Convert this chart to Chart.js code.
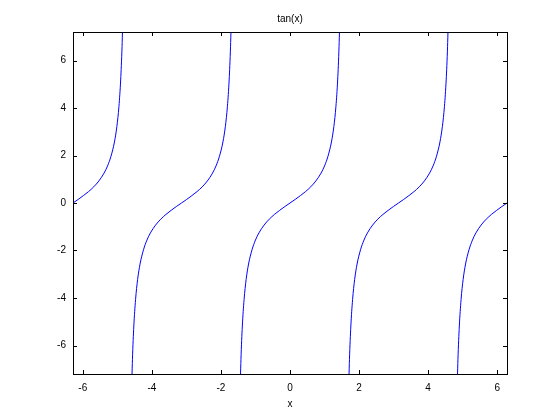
<!DOCTYPE html>
<html>
<head>
<meta charset="utf-8">
<script src="https://cdn.jsdelivr.net/npm/chart.js@4/dist/chart.umd.min.js"></script>
<style>
  html, body { margin: 0; padding: 0; background: #fff; }
  #wrap { width: 560px; height: 420px; }
</style>
</head>
<body>
<div id="wrap"><canvas id="c" width="560" height="420"></canvas></div>
<script>
// Values (tan(x) branches)
const branch1X = [-6.283, -6.133, -5.983, -5.833, -5.683, -5.533, -5.383, -5.283, -5.183, -5.083, -5.013, -4.953, -4.903, -4.863, -4.833];
const branch1Y = [0, 0.15, 0.31, 0.48, 0.68, 0.93, 1.26, 1.56, 1.97, 2.57, 3.22, 4.07, 5.18, 6.58, 8.24];

const branch2X = [-4.592, -4.562, -4.522, -4.472, -4.412, -4.342, -4.242, -4.142, -4.042, -3.892, -3.742, -3.592, -3.442, -3.292, -3.142,
                  -2.992, -2.842, -2.692, -2.542, -2.392, -2.242, -2.142, -2.042, -1.942, -1.872, -1.812, -1.762, -1.722, -1.692];
const branch2Y = [-8.24, -6.58, -5.18, -4.07, -3.22, -2.57, -1.97, -1.56, -1.26, -0.93, -0.68, -0.48, -0.31, -0.15, 0,
                  0.15, 0.31, 0.48, 0.68, 0.93, 1.26, 1.56, 1.97, 2.57, 3.22, 4.07, 5.18, 6.58, 8.24];

const branch3X = [-1.45, -1.42, -1.38, -1.33, -1.27, -1.2, -1.1, -1.0, -0.9, -0.75, -0.6, -0.45, -0.3, -0.15, 0,
                  0.15, 0.3, 0.45, 0.6, 0.75, 0.9, 1.0, 1.1, 1.2, 1.27, 1.33, 1.38, 1.42, 1.45];
const branch3Y = [-8.24, -6.58, -5.18, -4.07, -3.22, -2.57, -1.97, -1.56, -1.26, -0.93, -0.68, -0.48, -0.31, -0.15, 0,
                  0.15, 0.31, 0.48, 0.68, 0.93, 1.26, 1.56, 1.97, 2.57, 3.22, 4.07, 5.18, 6.58, 8.24];

const branch4X = [1.692, 1.722, 1.762, 1.812, 1.872, 1.942, 2.042, 2.142, 2.242, 2.392, 2.542, 2.692, 2.842, 2.992, 3.142,
                  3.292, 3.442, 3.592, 3.742, 3.892, 4.042, 4.142, 4.242, 4.342, 4.412, 4.472, 4.522, 4.562, 4.592];
const branch4Y = [-8.24, -6.58, -5.18, -4.07, -3.22, -2.57, -1.97, -1.56, -1.26, -0.93, -0.68, -0.48, -0.31, -0.15, 0,
                  0.15, 0.31, 0.48, 0.68, 0.93, 1.26, 1.56, 1.97, 2.57, 3.22, 4.07, 5.18, 6.58, 8.24];

const branch5X = [4.833, 4.863, 4.903, 4.953, 5.013, 5.083, 5.183, 5.283, 5.383, 5.533, 5.683, 5.833, 5.983, 6.133, 6.283];
const branch5Y = [-8.24, -6.58, -5.18, -4.07, -3.22, -2.57, -1.97, -1.56, -1.26, -0.93, -0.68, -0.48, -0.31, -0.15, 0];

const xTickValues = [-6, -4, -2, 0, 2, 4, 6];
const yTickValues = [-6, -4, -2, 0, 2, 4, 6];
const xRange = [-6.2832, 6.2832];
const yRange = [-7.2, 7.2];
const titleText = 'tan(x)';
const xLabelText = 'x';

const branches = [[branch1X, branch1Y], [branch2X, branch2Y], [branch3X, branch3Y], [branch4X, branch4Y], [branch5X, branch5Y]];
const datasets = branches.map(([xs, ys]) => ({
  data: xs.map((x, i) => ({ x: x, y: ys[i] })),
  borderColor: '#0000ff',
  borderWidth: 1,
  pointRadius: 0,
  fill: false,
  cubicInterpolationMode: 'monotone'
}));

const FONT = 'Liberation Sans, Arial, Helvetica, sans-serif';

const boxPlugin = {
  id: 'boxPlugin',
  afterDraw(chart) {
    const { ctx, chartArea: a } = chart;
    const xs = chart.scales.x, ys = chart.scales.y;
    ctx.save();
    ctx.strokeStyle = '#000';
    ctx.lineWidth = 1;
    ctx.strokeRect(Math.round(a.left) + 0.5, Math.round(a.top) + 0.5,
                   Math.round(a.right - a.left), Math.round(a.bottom - a.top));
    const tl = 4;
    ctx.beginPath();
    xTickValues.forEach(v => {
      const p = Math.round(xs.getPixelForValue(v)) + 0.5;
      ctx.moveTo(p, a.bottom); ctx.lineTo(p, a.bottom - tl);
      ctx.moveTo(p, a.top); ctx.lineTo(p, a.top + tl);
    });
    yTickValues.forEach(v => {
      const p = Math.round(ys.getPixelForValue(v)) + 0.5;
      ctx.moveTo(a.left, p); ctx.lineTo(a.left + tl, p);
      ctx.moveTo(a.right, p); ctx.lineTo(a.right - tl, p);
    });
    ctx.stroke();
    ctx.fillStyle = '#000';
    ctx.font = '10px ' + FONT;
    ctx.textAlign = 'center';
    ctx.textBaseline = 'middle';
    ctx.fillText(titleText, (a.left + a.right) / 2, 19);
    ctx.restore();
  }
};

new Chart(document.getElementById('c'), {
  type: 'line',
  data: { datasets: datasets },
  options: {
    responsive: false,
    animation: false,
    layout: { padding: { left: 0, right: 53, top: 32, bottom: 0 } },
    plugins: { legend: { display: false }, title: { display: false }, tooltip: { enabled: false } },
    scales: {
      x: {
        type: 'linear',
        min: xRange[0], max: xRange[1],
        grid: { display: false, drawTicks: false },
        border: { display: false },
        afterFit: s => { s.height = 46; },
        afterBuildTicks: s => { s.ticks = xTickValues.map(v => ({ value: v })); },
        ticks: { color: '#000', padding: 8, font: { family: FONT, size: 10 }, maxRotation: 0, autoSkip: false },
        title: { display: true, text: xLabelText, color: '#000', font: { family: FONT, size: 10 }, padding: { top: 0, bottom: 10 } }
      },
      y: {
        type: 'linear',
        min: yRange[0], max: yRange[1],
        grid: { display: false, drawTicks: false },
        border: { display: false },
        afterFit: s => { s.width = 73; },
        afterBuildTicks: s => { s.ticks = yTickValues.map(v => ({ value: v })); },
        ticks: { color: '#000', padding: 7, font: { family: FONT, size: 10 }, autoSkip: false }
      }
    }
  },
  plugins: [boxPlugin]
});
</script>
</body>
</html>
